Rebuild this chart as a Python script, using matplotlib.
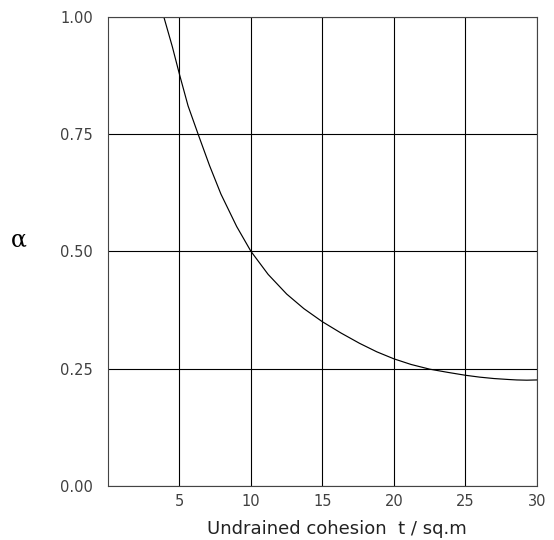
import matplotlib
matplotlib.use("Agg")
import matplotlib.pyplot as plt

# values
cohesion = [3.9, 4.5, 5.0, 5.6, 6.3, 7.1, 7.9, 9.0, 10.0, 11.2, 12.5, 13.7, 15.0, 16.3,
            17.6, 18.8, 20.0, 21.2, 22.5, 23.8, 25.0, 26.0, 27.0, 28.0, 28.6, 29.3, 30.0]
alpha = [1.0, 0.936, 0.877, 0.81, 0.75, 0.683, 0.622, 0.553, 0.5, 0.451, 0.409, 0.378,
         0.35, 0.326, 0.304, 0.286, 0.271, 0.259, 0.249, 0.242, 0.236, 0.232, 0.229,
         0.227, 0.226, 0.2255, 0.226]
xticks = [5, 10, 15, 20, 25, 30]
yticks = [0.0, 0.25, 0.5, 0.75, 1.0]
ylabels = ["0.00", "0.25", "0.50", "0.75", "1.00"]

fig = plt.figure(figsize=(5.54, 5.4), dpi=100)
ax = fig.add_axes([0.195, 0.1, 0.774, 0.869])

ax.plot(cohesion, alpha, color="black", lw=0.85)

ax.set_xlim(0, 30)
ax.set_ylim(0, 1)
ax.set_xticks(xticks)
ax.set_yticks(yticks)
ax.set_yticklabels(ylabels)
ax.grid(True, color="black", lw=0.8)
ax.tick_params(length=0, labelsize=10.5, labelcolor="#404040")
ax.tick_params(axis="y", pad=11)
ax.tick_params(axis="x", pad=6)
for s in ax.spines.values():
    s.set_linewidth(0.8)
    s.set_color("#444444")

ax.set_xlabel("Undrained cohesion  t / sq.m", fontsize=13, color="#222222")
ax.xaxis.set_label_coords(0.534, -0.072)
ax.text(-0.207, 0.524, "α", transform=ax.transAxes, fontsize=17,
        family="DejaVu Serif", ha="center", va="center")

fig.savefig("out.png", dpi=100)
